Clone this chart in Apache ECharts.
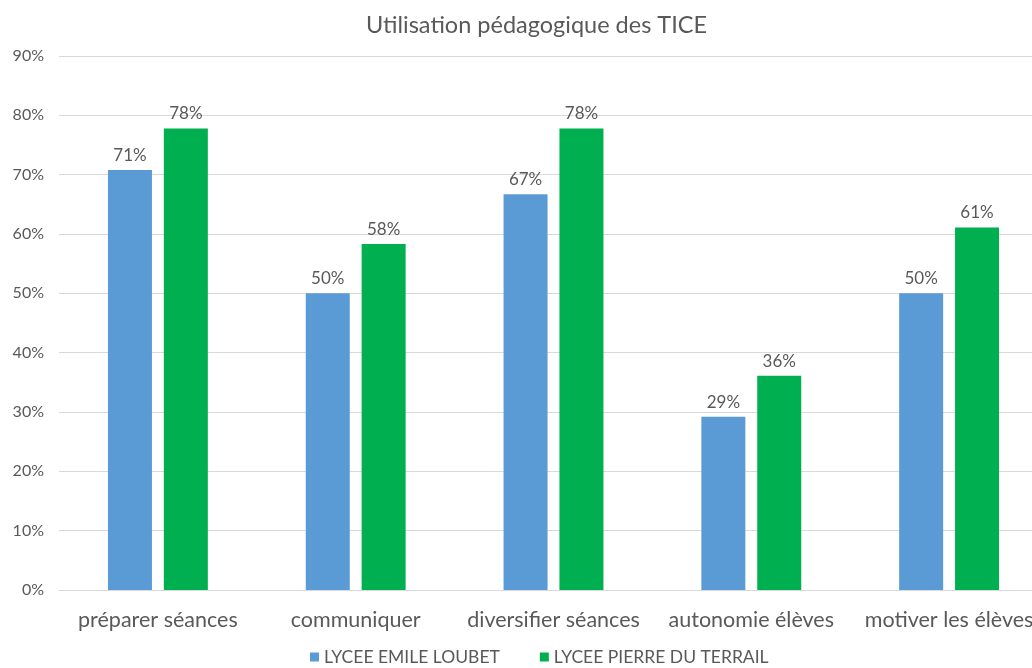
<!DOCTYPE html>
<html>
<head>
<meta charset="utf-8">
<script src="https://cdn.jsdelivr.net/npm/echarts@6/dist/echarts.min.js"></script>
<style>
  html, body { margin: 0; padding: 0; background: #fff; }
  #chart { width: 1032px; height: 668px; }
</style>
</head>
<body>
<div id="chart"></div>
<script>
const categories = ["préparer séances", "communiquer", "diversifier séances", "autonomie élèves", "motiver les élèves"];
const emileLoubet = [70.8, 50, 66.7, 29.2, 50];
const pierreDuTerrail = [77.8, 58.3, 77.8, 36.1, 61.1];
const seriesNames = ["LYCEE EMILE LOUBET", "LYCEE PIERRE DU TERRAIL"];

const textColor = "#595959";
const font = "Lato, 'Open Sans', sans-serif";

const barLabel = {
  show: true,
  position: "top",
  distance: 6,
  color: textColor,
  fontFamily: font,
  fontSize: 17,
  formatter: (p) => Math.round(p.value) + "%",
};

const chart = echarts.init(document.getElementById("chart"));
chart.setOption({
  animation: false,
  title: {
    text: "Utilisation pédagogique des TICE",
    left: 361,
    top: 8,
    textStyle: { color: textColor, fontFamily: font, fontSize: 23.5, fontWeight: "normal" },
  },
  legend: {
    top: 643,
    left: 305,
    itemWidth: 9,
    itemHeight: 9,
    itemGap: 40,
    icon: "rect",
    textStyle: { color: textColor, fontFamily: font, fontSize: 17.5 },
    data: seriesNames,
  },
  // plot area runs a little past the right edge, as in the original
  grid: { left: 59, right: -16, top: 56, bottom: 78, outerBoundsMode: "none" },
  xAxis: {
    type: "category",
    data: categories,
    axisLine: { lineStyle: { color: "#d9d9d9" } },
    axisTick: { show: false },
    axisLabel: { color: textColor, fontFamily: font, fontSize: 21.5, margin: 19, interval: 0 },
  },
  yAxis: {
    type: "value",
    min: 0,
    max: 90,
    interval: 10,
    axisLine: { show: false },
    axisTick: { show: false },
    splitLine: { lineStyle: { color: "#d9d9d9" } },
    axisLabel: { color: textColor, fontFamily: font, fontSize: 16, margin: 15, formatter: "{value}%" },
  },
  series: [
    {
      name: seriesNames[0],
      type: "bar",
      data: emileLoubet,
      barWidth: 44,
      barGap: "27%",
      itemStyle: { color: "#5b9bd5" },
      label: barLabel,
    },
    {
      name: seriesNames[1],
      type: "bar",
      data: pierreDuTerrail,
      barWidth: 44,
      barGap: "27%",
      itemStyle: { color: "#00b050" },
      label: barLabel,
    },
  ],
});
</script>
</body>
</html>
